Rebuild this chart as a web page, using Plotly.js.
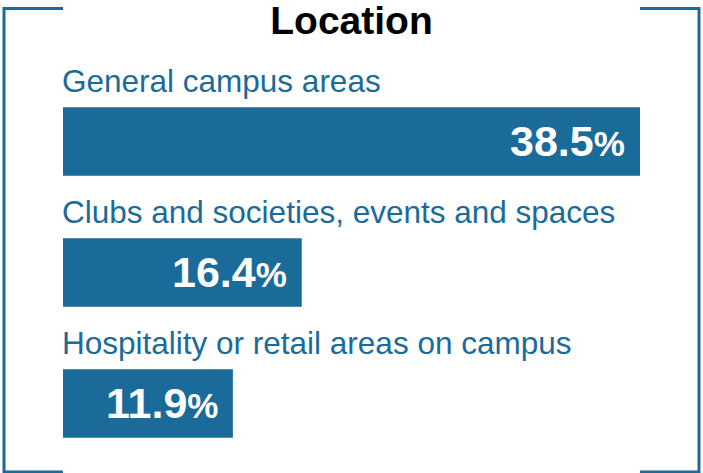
<!DOCTYPE html>
<html>
<head>
<meta charset="utf-8">
<script src="https://cdn.plot.ly/plotly-3.0.1.min.js"></script>
<style>
  html, body { margin: 0; padding: 0; background: #ffffff; }
  #chart { width: 703px; height: 473px; }
</style>
</head>
<body>
<div id="chart"></div>
<script>
// ---- data ----
const categories = [
  "General campus areas",
  "Clubs and societies, events and spaces",
  "Hospitality or retail areas on campus"
];
const values = [38.5, 16.4, 11.9];
const chartTitle = "Location";

// ---- style ----
const BLUE = "#1a6b9a";
const FONT = "Liberation Sans, Arial, sans-serif";

const trace = {
  type: "bar",
  orientation: "h",
  x: values,
  y: categories,
  marker: { color: BLUE, line: { width: 0 } },
  hoverinfo: "skip",
  textposition: "none"
};

const annotations = [];
categories.forEach((c, i) => {
  // category label above each bar
  annotations.push({
    xref: "paper", yref: "y",
    x: 0, y: c,
    xanchor: "left", yanchor: "middle",
    xshift: -3,
    yshift: 61,
    text: c,
    showarrow: false,
    font: { family: FONT, size: 31.5, color: BLUE }
  });
  // value label inside bar end
  annotations.push({
    xref: "x", yref: "y",
    x: values[i], y: c,
    xanchor: "right", yanchor: "middle",
    xshift: -13,
    yshift: 1,
    text: values[i].toFixed(1) + "<span style='font-size:35px'>%</span>",
    showarrow: false,
    font: { family: FONT, size: 43, color: "#ffffff", weight: "bold" }
  });
});

// bracket frame (paper coordinates relative to plot area)
const plotL = 63, plotR = 640, plotT = 76, plotB = 469;
const W = plotR - plotL, H = plotB - plotT;
const px = v => (v - plotL) / W;
const py = v => (plotB - v) / H;
const leftPath = `M ${px(63)} ${py(8.5)} L ${px(4)} ${py(8.5)} L ${px(4)} ${py(472)} L ${px(63)} ${py(472)}`;
const rightPath = `M ${px(640)} ${py(8.5)} L ${px(699)} ${py(8.5)} L ${px(699)} ${py(472)} L ${px(640)} ${py(472)}`;

const layout = {
  width: 703,
  height: 473,
  margin: { l: plotL, r: 703 - plotR, t: plotT, b: 473 - plotB, pad: 0 },
  paper_bgcolor: "#ffffff",
  plot_bgcolor: "#ffffff",
  showlegend: false,
  bargap: 0.477,
  title: {
    text: chartTitle,
    x: 0.5, xanchor: "center",
    xref: "container", yref: "container",
    y: 1 - 20 / 473, yanchor: "middle",
    font: { family: FONT, size: 39, color: "#000000", weight: "bold" }
  },
  xaxis: {
    range: [0.8, 38.5],
    visible: false,
    fixedrange: true
  },
  yaxis: {
    type: "category",
    categoryorder: "array",
    categoryarray: categories,
    range: [2.5, -0.5],
    visible: false,
    fixedrange: true
  },
  annotations: annotations,
  shapes: [
    { type: "path", xref: "paper", yref: "paper", path: leftPath, line: { color: BLUE, width: 3 }, layer: "above" },
    { type: "path", xref: "paper", yref: "paper", path: rightPath, line: { color: BLUE, width: 3 }, layer: "above" }
  ]
};

Plotly.newPlot("chart", [trace], layout, { displayModeBar: false, staticPlot: true });
</script>
</body>
</html>
